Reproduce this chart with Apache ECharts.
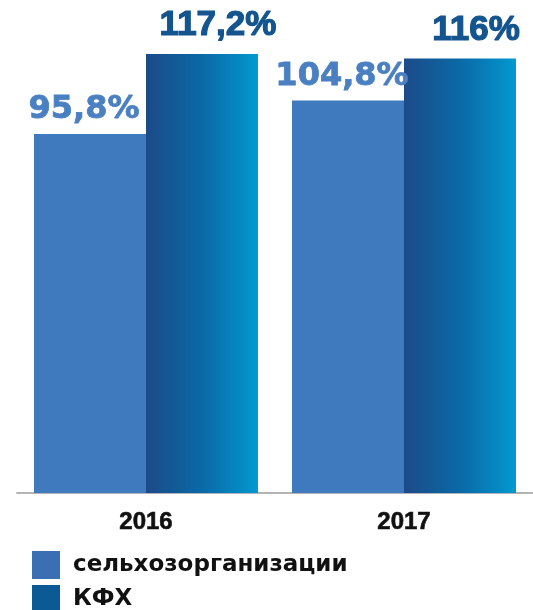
<!DOCTYPE html>
<html>
<head>
<meta charset="utf-8">
<script src="https://cdn.jsdelivr.net/npm/echarts@6/dist/echarts.min.js"></script>
<style>
html,body{margin:0;padding:0;background:#fff;}
#chart{width:533px;height:610px;}
</style>
</head>
<body>
<div id="chart"></div>
<script>
var categories = ['2016', '2017'];
var seriesNames = ['сельхозорганизации', 'КФХ'];
var agroValues = [95.8, 104.8];
var farmValues = [117.2, 116];

function fmt(v) { return String(v).replace('.', ',') + '%'; }

var legendText = {fontFamily: 'DejaVu Sans', fontWeight: 'bold', fontSize: 23, color: '#111111', padding: [0, 0, 0, 8]};

var chart = echarts.init(document.getElementById('chart'), null, {renderer: 'canvas'});
chart.setOption({
  animation: false,
  backgroundColor: '#ffffff',
  grid: {left: 17, width: 522, top: 6, bottom: 117, containLabel: false},
  legend: [
    {
      left: 32, top: 551, padding: 0, itemWidth: 28, itemHeight: 28, icon: 'rect',
      textStyle: legendText,
      data: [{name: seriesNames[0], itemStyle: {color: '#3a6fb3'}}]
    },
    {
      left: 32, top: 585, padding: 0, itemWidth: 28, itemHeight: 28, icon: 'rect',
      textStyle: legendText,
      data: [{name: seriesNames[1], itemStyle: {color: '#0b5a96'}}]
    }
  ],
  xAxis: {
    type: 'category',
    data: categories,
    axisLine: {show: true, lineStyle: {color: '#b4b4b4', width: 2}},
    axisTick: {show: false},
    axisLabel: {margin: 17, fontFamily: 'Liberation Sans', fontWeight: 'bold', fontSize: 24, color: '#111111',
      textBorderColor: '#111111', textBorderWidth: 0.6}
  },
  yAxis: {
    type: 'value',
    min: 0,
    max: 130,
    show: false,
    splitLine: {show: false}
  },
  series: [
    {
      name: seriesNames[0],
      type: 'bar',
      data: agroValues,
      barWidth: 112,
      barGap: '0%',
      itemStyle: {color: '#3f79be'},
      label: {
        show: true,
        position: 'top',
        distance: 8,
        offset: [-6, 0],
        formatter: function (p) { return fmt(p.value); },
        fontFamily: 'DejaVu Sans',
        fontWeight: 'bold',
        fontSize: 32,
        color: '#4a80c2',
        textBorderColor: '#4a80c2',
        textBorderWidth: 0.8
      }
    },
    {
      name: seriesNames[1],
      type: 'bar',
      data: farmValues,
      barWidth: 112,
      itemStyle: {
        color: new echarts.graphic.LinearGradient(0, 0, 1, 0, [
          {offset: 0, color: '#1d4a88'},
          {offset: 0.5, color: '#0a69a7'},
          {offset: 1, color: '#0299d1'}
        ])
      },
      label: {
        show: true,
        position: 'top',
        distance: 11,
        offset: [16, 0],
        formatter: function (p) { return fmt(p.value); },
        fontFamily: 'Liberation Sans',
        fontWeight: 'bold',
        fontSize: 35,
        color: '#14548f',
        textBorderColor: '#14548f',
        textBorderWidth: 1.2
      }
    }
  ]
});
</script>
</body>
</html>
